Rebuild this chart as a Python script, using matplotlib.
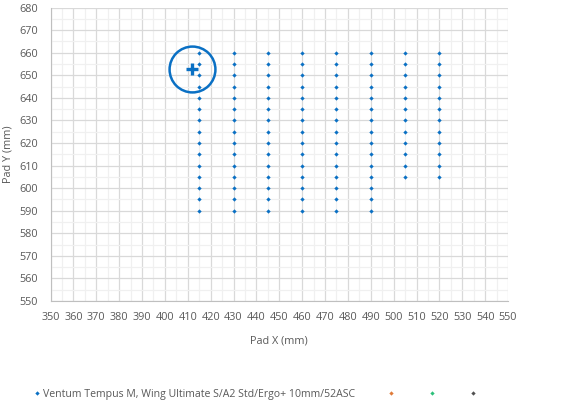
import matplotlib
matplotlib.use('Agg')
import matplotlib.pyplot as plt
from matplotlib.lines import Line2D
from matplotlib.ticker import MultipleLocator

# pad grid columns (x, mm) and y range of each column
pad_x = [415, 430, 445, 460, 475, 490, 505, 520]
y_min = [590, 590, 590, 590, 590, 590, 605, 605]
y_max = [660, 660, 660, 660, 660, 660, 660, 660]
y_step = 5

# current position marker
target_x = 412
target_y = 653

series_label = 'Ventum Tempus M, Wing Ultimate S/A2 Std/Ergo+ 10mm/52ASC'
legend_colors = ['#0A70C4', '#E07B39', '#2CC07A', '#505050']

xs, ys = [], []
for x, lo, hi in zip(pad_x, y_min, y_max):
    y = lo
    while y <= hi:
        xs.append(x)
        ys.append(y)
        y += y_step

plt.rcParams['font.family'] = ['Open Sans', 'DejaVu Sans']
fig = plt.figure(figsize=(5.63, 4.04), dpi=100)
ax = fig.add_axes([50.5 / 563, 1 - 301 / 404, (508 - 50.5) / 563, (301 - 7.6) / 404])

ax.plot(xs, ys, linestyle='none', marker='D', markersize=2.2,
        color=legend_colors[0], markeredgewidth=0)
ax.plot([target_x], [target_y], linestyle='none', marker='o', markersize=33,
        markerfacecolor='none', markeredgecolor='#0A70C4', markeredgewidth=1.8)
ax.plot([target_x], [target_y], linestyle='none', marker='+', markersize=9,
        color='#0A70C4', markeredgewidth=2.4)

ax.set_xlim(350, 550)
ax.set_ylim(550, 680)
ax.xaxis.set_major_locator(MultipleLocator(10))
ax.yaxis.set_major_locator(MultipleLocator(10))
ax.xaxis.set_minor_locator(MultipleLocator(5))
ax.yaxis.set_minor_locator(MultipleLocator(5))
ax.grid(which='major', color='#D9D9D9', linewidth=0.9)
ax.grid(which='minor', color='#F0F0F0', linewidth=0.9)
ax.set_axisbelow(True)
for s in ['top', 'right']:
    ax.spines[s].set_visible(False)
for s in ['left', 'bottom']:
    ax.spines[s].set_color('#BFBFBF')
ax.tick_params(which='both', length=0, colors='#595959', labelsize=7.8)
ax.tick_params(axis='x', pad=8)
ax.tick_params(axis='y', pad=9)
ax.set_xlabel('Pad X (mm)', fontsize=7.8, color='#595959', labelpad=9)
ax.set_ylabel('Pad Y (mm)', fontsize=7.8, color='#595959', labelpad=4)

handles = [Line2D([], [], linestyle='none', marker='D', markersize=2.2,
                  color=c, markeredgewidth=0) for c in legend_colors]
labels = [series_label, '', '', '']
fig.legend(handles, labels, loc='center left', bbox_to_anchor=(0.045, 1 - 394 / 404),
           ncol=4, frameon=False, fontsize=7.6, handlelength=0.5,
           handletextpad=0.3, columnspacing=3.1, labelcolor='#595959')

fig.savefig('out.png', dpi=100)
